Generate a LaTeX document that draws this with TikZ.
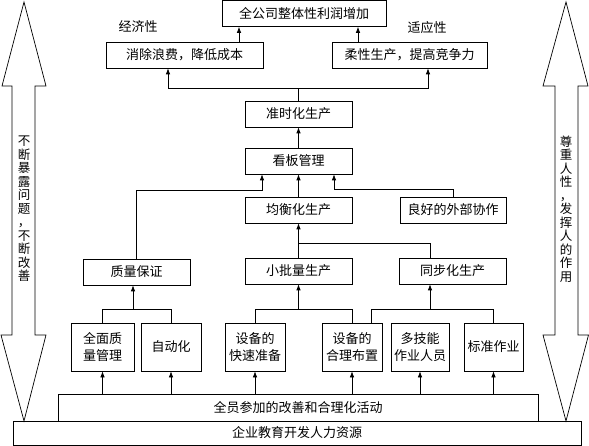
\documentclass[tikz,border=0pt]{standalone}
\usepackage{fontspec}
\setmainfont{Noto Sans CJK SC}
\usetikzlibrary{arrows.meta}
\begin{document}
\begin{tikzpicture}[x=1pt,y=-1pt,
  box/.style={draw,line width=0.7pt,minimum height=26pt,inner sep=0pt,font=\fontsize{13pt}{17pt}\selectfont,align=center},
  lbl/.style={inner sep=0pt,font=\fontsize{13pt}{15pt}\selectfont},
  vtext/.style={inner sep=0pt,align=center,font=\fontsize{12.5pt}{13.5pt}\selectfont},
  arr/.style={line width=0.7pt,-{Latex[length=6pt,width=4.5pt]}},
  ln/.style={line width=0.7pt},
  big/.style={draw,line width=0.7pt,fill=white}]
\useasboundingbox (0,0) rectangle (589,446);

% big side arrows
\draw[big] (24,2) -- (46,86) -- (35,86) -- (35,335) -- (46,335) -- (24,421) -- (1,335) -- (12,335) -- (12,86) -- (2,86) -- cycle;
\draw[big] (566,2) -- (588,86) -- (578,86) -- (578,335) -- (588.5,335) -- (566,421) -- (543,335) -- (555,335) -- (555,86) -- (543,86) -- cycle;
\node[vtext] (lt) at (24,209) {不\\断\\暴\\露\\问\\题\\，\\不\\断\\改\\善};
\node[vtext] (rt) at (566,209) {尊\\重\\人\\性\\，\\发\\挥\\人\\的\\作\\用};

% boxes
\node[box,minimum width=164pt] (top) at (304,13.5) {全公司整体性利润增加};
\node[box,minimum width=157pt] (xc) at (184.5,55) {消除浪费，降低成本};
\node[box,minimum width=155pt] (rx) at (409.5,55) {柔性生产，提高竞争力};
\node[lbl] (l1) at (138,27) {经济性};
\node[lbl] (l2) at (427,28) {适应性};
\node[box,minimum width=107pt] (jit) at (298.5,114) {准时化生产};
\node[box,minimum width=107pt] (kb) at (298.5,161) {看板管理};
\node[box,minimum width=107pt] (jh) at (298.5,210) {均衡化生产};
\node[box,minimum width=106pt] (wb) at (453,210) {良好的外部协作};
\node[box,minimum width=107pt] (zl) at (136.5,272) {质量保证};
\node[box,minimum width=107pt] (xp) at (298.5,271) {小批量生产};
\node[box,minimum width=107pt] (tb) at (452.5,271) {同步化生产};
\node[box,minimum width=63pt,minimum height=48pt] (b1) at (102.5,347) {全面质\\量管理};
\node[box,minimum width=60pt,minimum height=48pt] (b2) at (171,347) {自动化};
\node[box,minimum width=60pt,minimum height=48pt] (b3) at (255,347) {设备的\\快速准备};
\node[box,minimum width=60pt,minimum height=48pt] (b4) at (352,347) {设备的\\合理布置};
\node[box,minimum width=58pt,minimum height=48pt] (b5) at (420,347) {多技能\\作业人员};
\node[box,minimum width=59pt,minimum height=48pt] (b6) at (493.5,347) {标准作业};
\node[box,minimum width=480pt,minimum height=27pt] (qy) at (298,407.5) {全员参加的改善和合理化活动};
\node[box,minimum width=568pt,minimum height=24pt] (hr) at (297,433) {企业教育开发人力资源};

% helper coordinates
\coordinate (a1) at (239,0);
\coordinate (a2) at (358,0);
\coordinate (a3) at (168,88);
\coordinate (a4) at (428,88);
\coordinate (k1) at (262,190);
\coordinate (k2) at (334,189);
\coordinate (s1) at (298.5,243);
\coordinate (s2) at (430,0);
\coordinate (g1) at (0,309);
\coordinate (q1) at (133,0);
\coordinate (m1) at (371,0);

% top connectors
\draw[arr] (xc.north -| a1) -- (top.south -| a1);
\draw[arr] (rx.north -| a2) -- (top.south -| a2);
\draw[ln] (jit.north) -- (jit.north |- a3);
\draw[arr] (a3 -| jit.north) -- (a3) -- (xc.south -| a3);
\draw[arr] (a4 -| jit.north) -- (a4) -- (rx.south -| a4);
\draw[arr] (kb.north) -- (jit.south);
\draw[arr] (jh.north) -- (kb.south);
\draw[arr] (zl.north) |- (k1) -- (kb.south -| k1);
\draw[arr] (wb.north) |- (k2) -- (kb.south -| k2);
\draw[arr] (xp.north) -- (jh.south);
\draw[ln] (tb.north -| s2) |- (s1);

% bottom groups
\draw[ln] (b1.north) -- (b1.north |- g1) -- (b2.north |- g1) -- (b2.north);
\draw[arr] (g1 -| q1) -- (zl.south -| q1);
\draw[ln] (b3.north) -- (b3.north |- g1) -- (b4.north |- g1) -- (b4.north);
\draw[arr] (g1 -| xp.south) -- (xp.south);
\draw[ln] (b4.north -| m1) -- (g1 -| m1) -- (g1 -| b6.north) -- (b6.north);
\draw[arr] (g1 -| s2) -- (tb.south -| s2);

% arrows from the improvement activities
\foreach \b in {b1,b2,b3,b4,b5,b6}
  \draw[arr] (qy.north -| \b.south) -- (\b.south);
\end{tikzpicture}
\end{document}
